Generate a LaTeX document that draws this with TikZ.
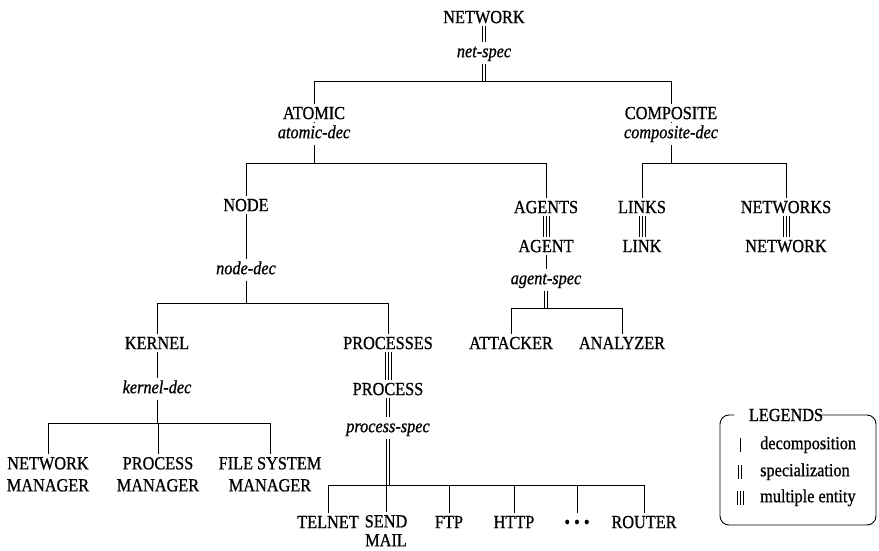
\documentclass[tikz,border=0pt]{standalone}
\usepackage{fontspec}
\setmainfont{Liberation Serif}[FakeStretch=0.88, FakeBold=0.8]
\newcommand\triplelink[2]{%
  \foreach \d in {-3,0,3}{\draw[line width=0.8pt] ([xshift=\d pt]#1) -- ([xshift=\d pt]#2);}}
\begin{document}
\begin{tikzpicture}[x=1pt,y=-1pt,
  every node/.style={font=\fontsize{18.5}{22}\selectfont, inner sep=3pt},
  capbox/.style={text height=12.2pt, text depth=0pt},
  lab/.style={font=\fontsize{18.5}{22}\selectfont\itshape, text height=12.2pt, text depth=3.8pt},
  two/.style={align=center, anchor=north},
  dec/.style={line width=0.9pt},
  spec/.style={double, double distance=2.4pt, line width=0.8pt},
  leg/.style={anchor=west, text height=12.2pt, text depth=3.8pt, inner sep=0pt}]
\useasboundingbox (0,0) rectangle (879,551);

% ---- labels ----
\node[capbox] (net) at (484,17) {NETWORK};
\node[lab] (netspec) at (484,53) {net-spec};
\coordinate (bar0) at (0,81);

\node[capbox] (atomic) at (314,113) {ATOMIC};
\node[capbox] (composite) at (671,113) {COMPOSITE};
\node[lab] (atomicdec) at (314,134) {atomic-dec};
\node[lab] (compdec) at (671,134) {composite-dec};
\coordinate (bar1) at (0,163);

\node[capbox] (nodeN) at (246,205) {NODE};
\node[capbox] (agents) at (546,207) {AGENTS};
\node[capbox] (links) at (642,207) {LINKS};
\node[capbox] (networks) at (786,207) {NETWORKS};
\node[capbox] (agent) at (546,246) {AGENT};
\node[capbox] (link) at (642,246) {LINK};
\node[capbox] (network2) at (786,246) {NETWORK};
\node[lab] (nodedec) at (246,270) {node-dec};
\node[lab] (agentspec) at (546,280) {agent-spec};
\coordinate (bar2) at (0,303);
\coordinate (bar3) at (0,308);

\node[capbox] (kernel) at (157,343) {KERNEL};
\node[capbox] (processes) at (388,343) {PROCESSES};
\node[capbox] (attacker) at (511,343) {ATTACKER};
\node[capbox] (analyzer) at (622,343) {ANALYZER};
\node[capbox] (process) at (388,389) {PROCESS};
\node[lab] (kerneldec) at (157,389) {kernel-dec};
\node[lab] (processspec) at (388,428) {process-spec};
\coordinate (bar4) at (0,423);

\node[two] (netman) at (48,453.9) {NETWORK\\MANAGER};
\node[two] (procman) at (158,453.9) {PROCESS\\MANAGER};
\node[two] (fsman) at (270,453.9) {FILE SYSTEM\\MANAGER};
\coordinate (bar5) at (0,485);

\node[capbox] (telnet) at (328,522) {TELNET};
\node[two, font=\fontsize{18.5}{19}\selectfont] (sendmail) at (386,511.9) {SEND\\MAIL};
\node[capbox] (ftp) at (449,522) {FTP};
\node[capbox] (http) at (514,522) {HTTP};
\node[capbox] (dots) at (577,522) {• • •};
\node[capbox] (router) at (644,522) {ROUTER};

% ---- specialization and multiple-entity links ----
\draw[spec] (net.south) -- (net.south |- netspec.north);
\draw[spec] (netspec.south) -- (netspec.south |- bar0);
\triplelink{agents.south}{agents.south |- agent.north}
\triplelink{links.south}{links.south |- link.north}
\triplelink{networks.south}{networks.south |- network2.north}
\draw[spec] (agentspec.south) -- (agentspec.south |- bar3);
\triplelink{processes.south}{processes.south |- process.north}
\draw[spec] (process.south) -- (process.south |- processspec.north);
\draw[spec] (processspec.south) -- (processspec.south |- bar5);

% ---- decomposition links and bars ----
\draw[dec] (atomic.north) |- (composite.north |- bar0) -- (composite.north);
\draw[dec] (atomic.south) -- (atomic.south |- atomicdec.north);
\draw[dec] (composite.south) -- (composite.south |- compdec.north);
\draw[dec] (atomicdec.south) -- (atomicdec.south |- bar1);
\draw[dec] (nodeN.north) |- (agents.north |- bar1) -- (agents.north);
\draw[dec] (compdec.south) -- (compdec.south |- bar1);
\draw[dec] (links.north) |- (networks.north |- bar1) -- (networks.north);
\draw[dec] (agent.south) -- (agent.south |- agentspec.north);
\draw[dec] (nodeN.south) -- (nodeN.south |- nodedec.north);
\draw[dec] (nodedec.south) -- (nodedec.south |- bar2);
\draw[dec] (kernel.north) |- (processes.north |- bar2) -- (processes.north);
\draw[dec] (attacker.north) |- (analyzer.north |- bar3) -- (analyzer.north);
\draw[dec] (kernel.south) -- (kernel.south |- kerneldec.north);
\draw[dec] (kerneldec.south) -- (kerneldec.south |- bar4);
\draw[dec] (netman.north) |- (fsman.north |- bar4) -- (fsman.north);
\draw[dec] (procman.north) -- (procman.north |- bar4);
\draw[dec] (telnet.north) |- (router.north |- bar5) -- (router.north);
\foreach \n in {sendmail,ftp,http,dots}
  \draw[dec] (\n.north) -- (\n.north |- bar5);

% ---- legend ----
\node[inner sep=0pt] (legtitle) at (786,415) {LEGENDS};
\draw[dec, rounded corners=9pt] ([xshift=-4pt]legtitle.east) -- (876,415) -- (876,525)
  -- (720,525) -- (720,415) -- (734,415);
\node[leg] (lgdec) at (760,445) {decomposition};
\node[leg] (lgspec) at (760,472) {specialization};
\node[leg] (lgmul) at (760,498) {multiple entity};
\coordinate (ld1) at ([shift={(-20,-7)}]lgdec.west);
\coordinate (ld2) at ([shift={(-20,7)}]lgdec.west);
\coordinate (ls1) at ([shift={(-20,-7)}]lgspec.west);
\coordinate (ls2) at ([shift={(-20,7)}]lgspec.west);
\coordinate (lm1) at ([shift={(-20,-7)}]lgmul.west);
\coordinate (lm2) at ([shift={(-20,7)}]lgmul.west);
\draw[dec] (ld1) -- (ld2);
\draw[spec] (ls1) -- (ls2);
\triplelink{lm1}{lm2}
\end{tikzpicture}
\end{document}
